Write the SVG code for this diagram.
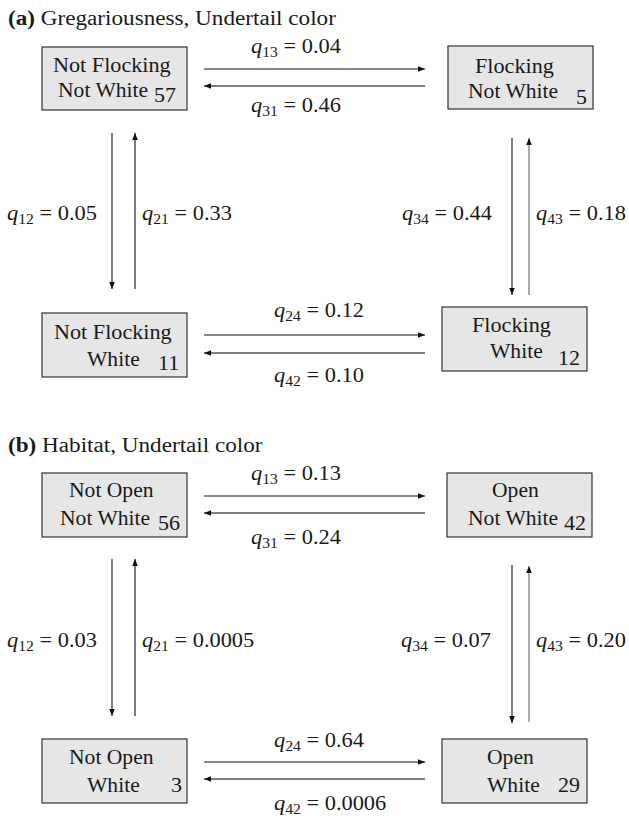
<svg xmlns="http://www.w3.org/2000/svg" width="629" height="818" viewBox="0 0 629 818">
<style>
text{font-family:"Liberation Serif","Times New Roman",serif;font-size:20px;fill:#1a1a1a}
.ttl{font-size:20.5px}
.b{font-weight:bold}
.box{fill:#e6e6e6;stroke:#333;stroke-width:1.2}
.fw{stroke:#111;stroke-width:1.1;fill:none;marker-end:url(#ah)}
.bk{stroke:#555;stroke-width:1.3;fill:none;marker-end:url(#ah)}
.gr{stroke:#888;stroke-width:1.4;fill:none;marker-end:url(#ah)}
.q{font-style:italic}
.s{font-size:14px}
</style>
<defs>
<marker id="ah" viewBox="0 0 10 10" refX="10" refY="5" markerWidth="7" markerHeight="7" markerUnits="userSpaceOnUse" orient="auto">
<path d="M0,1 L10,5 L0,9 z" fill="#111"/>
</marker>
</defs>

<text class="ttl" transform="translate(8,25) scale(1.13,1)"><tspan class="b">(a)</tspan> Gregariousness, Undertail color</text>
<text class="ttl" transform="translate(8,452) scale(1.13,1)"><tspan class="b">(b)</tspan> Habitat, Undertail color</text>

<g id="connectors">
<line class="fw" x1="204" y1="69" x2="425" y2="69"/>
<line class="bk" x1="425" y1="86" x2="204" y2="86"/>
<line class="fw" x1="112" y1="133" x2="112" y2="289"/>
<line class="fw" x1="135" y1="289" x2="135" y2="133"/>
<line class="fw" x1="512" y1="138" x2="512" y2="295"/>
<line class="gr" x1="529" y1="295" x2="529" y2="138"/>
<line class="fw" x1="204" y1="335" x2="425" y2="335"/>
<line class="bk" x1="425" y1="353" x2="204" y2="353"/>

<line class="fw" x1="204" y1="496" x2="425" y2="496"/>
<line class="bk" x1="425" y1="513" x2="204" y2="513"/>
<line class="fw" x1="112" y1="559" x2="112" y2="716"/>
<line class="fw" x1="135" y1="716" x2="135" y2="559"/>
<line class="fw" x1="512" y1="565" x2="512" y2="723"/>
<line class="gr" x1="529" y1="722" x2="529" y2="566"/>
<line class="fw" x1="204" y1="762" x2="425" y2="762"/>
<line class="bk" x1="425" y1="779" x2="204" y2="779"/>
</g>

<g id="labels">
<text transform="translate(251,53) scale(1.12,1)"><tspan class="q">q</tspan><tspan class="s" dy="4">13</tspan><tspan dy="-4"> = 0.04</tspan></text>
<text transform="translate(251,112) scale(1.12,1)"><tspan class="q">q</tspan><tspan class="s" dy="4">31</tspan><tspan dy="-4"> = 0.46</tspan></text>
<text transform="translate(7,220) scale(1.12,1)"><tspan class="q">q</tspan><tspan class="s" dy="4">12</tspan><tspan dy="-4"> = 0.05</tspan></text>
<text transform="translate(142,220) scale(1.12,1)"><tspan class="q">q</tspan><tspan class="s" dy="4">21</tspan><tspan dy="-4"> = 0.33</tspan></text>
<text transform="translate(402,220) scale(1.12,1)"><tspan class="q">q</tspan><tspan class="s" dy="4">34</tspan><tspan dy="-4"> = 0.44</tspan></text>
<text transform="translate(536,220) scale(1.12,1)"><tspan class="q">q</tspan><tspan class="s" dy="4">43</tspan><tspan dy="-4"> = 0.18</tspan></text>
<text transform="translate(274,317) scale(1.12,1)"><tspan class="q">q</tspan><tspan class="s" dy="4">24</tspan><tspan dy="-4"> = 0.12</tspan></text>
<text transform="translate(274,382) scale(1.12,1)"><tspan class="q">q</tspan><tspan class="s" dy="4">42</tspan><tspan dy="-4"> = 0.10</tspan></text>

<text transform="translate(251,480) scale(1.12,1)"><tspan class="q">q</tspan><tspan class="s" dy="4">13</tspan><tspan dy="-4"> = 0.13</tspan></text>
<text transform="translate(251,544) scale(1.12,1)"><tspan class="q">q</tspan><tspan class="s" dy="4">31</tspan><tspan dy="-4"> = 0.24</tspan></text>
<text transform="translate(7,647) scale(1.12,1)"><tspan class="q">q</tspan><tspan class="s" dy="4">12</tspan><tspan dy="-4"> = 0.03</tspan></text>
<text transform="translate(142,647) scale(1.12,1)"><tspan class="q">q</tspan><tspan class="s" dy="4">21</tspan><tspan dy="-4"> = 0.0005</tspan></text>
<text transform="translate(401,647) scale(1.12,1)"><tspan class="q">q</tspan><tspan class="s" dy="4">34</tspan><tspan dy="-4"> = 0.07</tspan></text>
<text transform="translate(536,647) scale(1.12,1)"><tspan class="q">q</tspan><tspan class="s" dy="4">43</tspan><tspan dy="-4"> = 0.20</tspan></text>
<text transform="translate(274,747) scale(1.12,1)"><tspan class="q">q</tspan><tspan class="s" dy="4">24</tspan><tspan dy="-4"> = 0.64</tspan></text>
<text transform="translate(274,810) scale(1.12,1)"><tspan class="q">q</tspan><tspan class="s" dy="4">42</tspan><tspan dy="-4"> = 0.0006</tspan></text>
</g>

<g id="a-notflocking-notwhite">
<rect class="box" x="42" y="47" width="145" height="63"/>
<text transform="translate(53,72) scale(1.11,1)">Not Flocking</text>
<text transform="translate(58,97) scale(1.08,1)">Not White</text>
<text transform="translate(154,102) scale(1.1,1)">57</text>
</g>
<g id="a-flocking-notwhite">
<rect class="box" x="448" y="46" width="145" height="63"/>
<text transform="translate(475,73) scale(1.11,1)">Flocking</text>
<text transform="translate(468,98) scale(1.08,1)">Not White</text>
<text transform="translate(576,104) scale(1.1,1)">5</text>
</g>
<g id="a-notflocking-white">
<rect class="box" x="42" y="313" width="145" height="64"/>
<text transform="translate(54,339) scale(1.11,1)">Not Flocking</text>
<text transform="translate(87,366) scale(1.08,1)">White</text>
<text transform="translate(158,370) scale(1.1,1)">11</text>
</g>
<g id="a-flocking-white">
<rect class="box" x="442" y="307" width="145" height="64"/>
<text transform="translate(472,332) scale(1.11,1)">Flocking</text>
<text transform="translate(490,358) scale(1.08,1)">White</text>
<text transform="translate(558,365) scale(1.1,1)">12</text>
</g>

<g id="b-notopen-notwhite">
<rect class="box" x="42" y="473" width="145" height="64"/>
<text transform="translate(69,497) scale(1.08,1)">Not Open</text>
<text transform="translate(60,525) scale(1.08,1)">Not White</text>
<text transform="translate(158,530) scale(1.1,1)">56</text>
</g>
<g id="b-open-notwhite">
<rect class="box" x="447" y="473" width="145" height="64"/>
<text transform="translate(492,497) scale(1.08,1)">Open</text>
<text transform="translate(468,525) scale(1.08,1)">Not White</text>
<text transform="translate(564,530) scale(1.1,1)">42</text>
</g>
<g id="b-notopen-white">
<rect class="box" x="42" y="739" width="145" height="64"/>
<text transform="translate(69,764) scale(1.08,1)">Not Open</text>
<text transform="translate(87,792) scale(1.08,1)">White</text>
<text transform="translate(171,792) scale(1.1,1)">3</text>
</g>
<g id="b-open-white">
<rect class="box" x="442" y="739" width="145" height="64"/>
<text transform="translate(487,764) scale(1.08,1)">Open</text>
<text transform="translate(487,792) scale(1.08,1)">White</text>
<text transform="translate(558,792) scale(1.1,1)">29</text>
</g>
</svg>
